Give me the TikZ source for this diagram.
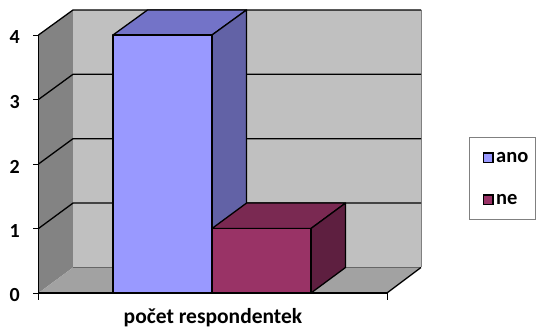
\documentclass[tikz,border=0pt]{standalone}
\usepackage{fontspec}
\setmainfont{Carlito}
\begin{document}
\begin{tikzpicture}[x=1pt,y=-1pt,
  edge/.style={draw=black,line width=1.3pt,line join=round},
  grid/.style={draw=black,line width=1.3pt},
  tick/.style={draw=black,line width=0.9pt},
  axlabel/.style={font=\fontsize{20}{20}\selectfont\bfseries,anchor=east,inner sep=0pt},
  legsq/.style={draw=black,line width=1.5pt},
  legtext/.style={font=\fontsize{20.5}{20.5}\selectfont\bfseries,anchor=west,inner sep=0pt}]
\useasboundingbox (0,0) rectangle (536,328);
\definecolor{wallgray}{HTML}{C0C0C0}
\definecolor{sidegray}{HTML}{838383}
\definecolor{floorgray}{HTML}{A2A2A2}
\definecolor{bluefront}{HTML}{9999FF}
\definecolor{bluetop}{HTML}{7373C8}
\definecolor{blueside}{HTML}{6262A6}
\definecolor{magfront}{HTML}{993366}
\definecolor{magtop}{HTML}{7A2952}
\definecolor{magside}{HTML}{5E1F40}
% walls
\fill[sidegray] (38.5,35) -- (73,10) -- (73,267.5) -- (38.5,293) -- cycle;
\fill[wallgray] (73,10) rectangle (421,267.5);
\draw[gray,line width=0.8pt] (421,10) -- (421,267.5);
\fill[floorgray] (38.5,293) -- (73,267.5) -- (421,267.5) -- (387,293) -- cycle;
\draw[black!60,line width=0.6pt] (73,267.5) -- (421,267.5);
% gridlines
\draw[grid] (38.5,35) -- (73,10) -- (421,10);
\draw[grid] (38.5,99.5) -- (73,74.3) -- (421,74.3);
\draw[grid] (38.5,164) -- (73,138.7) -- (421,138.7);
\draw[grid] (38.5,228.5) -- (73,203.1) -- (421,203.1);
\draw[edge] (387,293) -- (421,267.5);
% axis
\draw[edge] (38.5,35) -- (38.5,293) -- (387,293);
\foreach \yy in {35,99.5,164,228.5,293} \draw[tick] (33,\yy) -- (38.5,\yy);
\draw[tick] (38.5,293) -- (38.5,300);
\draw[tick] (387,293) -- (387,300);
% labels
\node[axlabel] (l4) at (20,37.5) {4};
\node[axlabel] (l3) at (20,102) {3};
\node[axlabel] (l2) at (20,166.5) {2};
\node[axlabel] (l1) at (20,231) {1};
\node[axlabel] (l0) at (20,295.5) {0};
% blue bar
\filldraw[edge,fill=bluetop] (113,35) -- (147.5,10) -- (246.5,10) -- (212,35) -- cycle;
\filldraw[edge,fill=blueside] (212,35) -- (246.5,10) -- (246.5,267.5) -- (212,293) -- cycle;
\filldraw[edge,fill=bluefront] (113,35) rectangle (212,293);
% magenta bar
\filldraw[edge,fill=magtop] (212,228.5) -- (246.5,203.1) -- (345.5,203.1) -- (311,228.5) -- cycle;
\filldraw[edge,fill=magside] (311,228.5) -- (345.5,203.1) -- (345.5,267.5) -- (311,293) -- cycle;
\filldraw[edge,fill=magfront] (212,228.5) rectangle (311,293);
\draw[edge] (38.5,293) -- (387,293);
% title
\node[font=\fontsize{21.5}{21.5}\selectfont\bfseries,inner sep=0pt] (title) at (213,318) {počet respondentek};
% legend
\draw[gray,line width=0.8pt] (469,137) rectangle (535,219);
\draw[legsq,fill=bluefront] (483.5,153) rectangle (493,162.5);
\node[legtext] (ano) at (496,157.5) {ano};
\draw[legsq,fill=magfront] (483.5,195) rectangle (493,204.5);
\node[legtext] (ne) at (496,199.5) {ne};
\end{tikzpicture}
\end{document}
